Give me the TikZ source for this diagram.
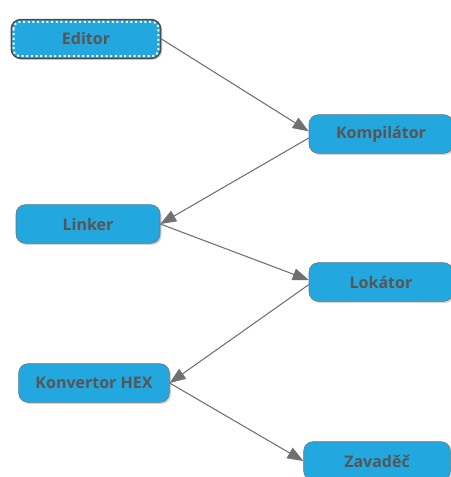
\documentclass[tikz,border=0pt]{standalone}
\usepackage{fontspec}
\setmainfont{Open Sans}
\usetikzlibrary{arrows.meta,shadows}
\definecolor{stepfill}{HTML}{22A8DE}
\definecolor{steptext}{HTML}{565656}
\definecolor{stepline}{HTML}{707070}
\begin{document}
\begin{tikzpicture}
[x=0.75pt,y=-0.75pt,
every node/.style={draw=stepline,rounded corners=7pt,fill=stepfill,text=steptext,
  font=\fontsize{12}{14}\selectfont\bfseries,minimum height=29pt,
  drop shadow={shadow xshift=1.2pt,shadow yshift=-1.2pt,opacity=.35}},
flow/.style={draw=stepline,line width=.8pt,-{Triangle[length=12pt,width=9pt]}}]
	\useasboundingbox (0,0) rectangle (450,477);
	% the chain of tools
	\node[minimum width=112pt,draw=black!70,line width=1.2pt] (ed) at (86,39) {Editor};
	\node[minimum width=108pt] (kom) at (381,134) {Kompilátor};
	\node[minimum width=108pt] (lin) at (88,224) {Linker};
	\node[minimum width=108pt] (lok) at (381,282) {Lokátor};
	\node[minimum width=113pt] (kon) at (94,383) {Konvertor HEX};
	\node[minimum width=110pt] (zav) at (377,461) {Zavaděč};
	\draw[white,dotted,line width=1.5pt,rounded corners=5pt]
		([shift={(3,3)}]ed.north west) rectangle ([shift={(-3,-3)}]ed.south east);
	% connectors
	\draw[flow] (ed.east) -- ([yshift=2pt]kom.west);
	\draw[flow] ([yshift=-3pt]kom.west) -- (lin.east);
	\draw[flow] (lin.east) -- ([yshift=1.5pt]lok.west);
	\draw[flow] ([yshift=-2pt]lok.west) -- (kon.east);
	\draw[flow] (kon.east) -- (zav.west);
\end{tikzpicture}
\end{document}
